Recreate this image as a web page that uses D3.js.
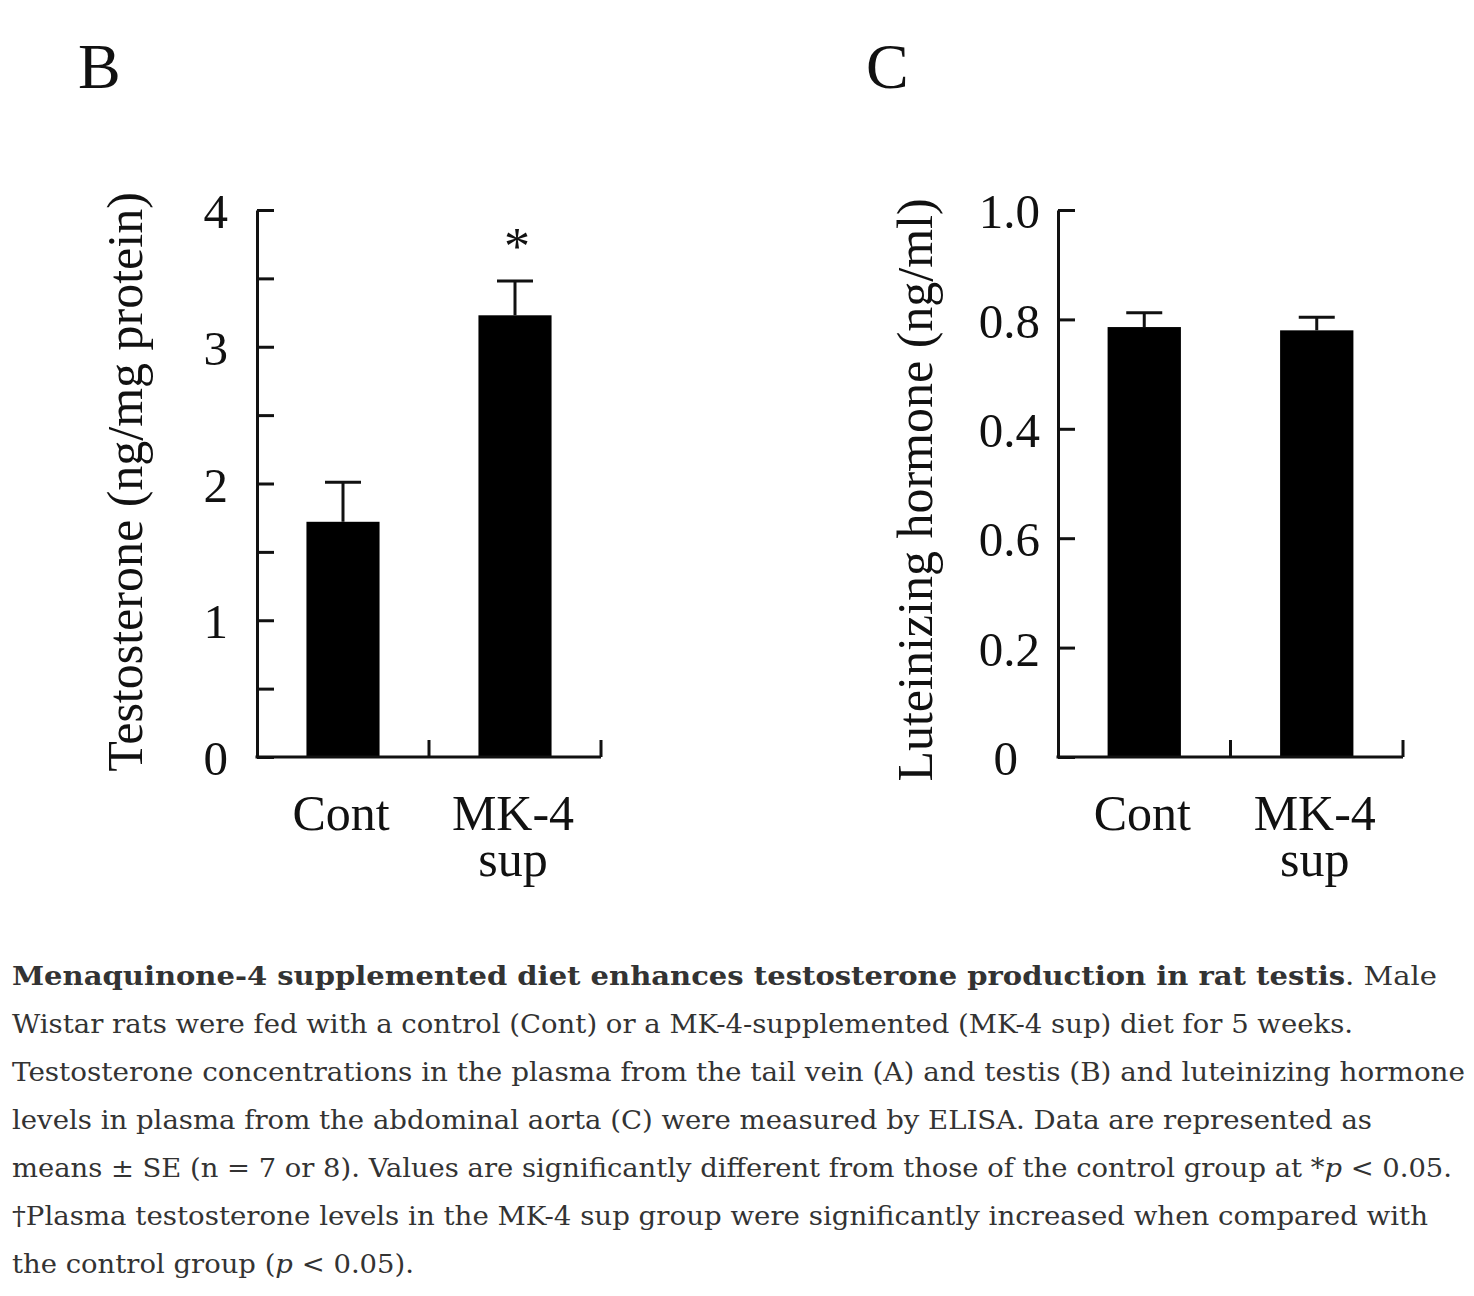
<!DOCTYPE html>
<html><head><meta charset="utf-8">
<script src="https://cdn.jsdelivr.net/npm/d3@7"></script>
<style>
html,body{margin:0;padding:0;background:#fff;}
svg{display:block;}
</style></head>
<body>
<svg id="chart" width="1474" height="1296"></svg>
<script>
// ---- data ----
const categories = ["Cont", "MK-4 sup"];
const categoryLines = [["Cont"], ["MK-4", "sup"]];
const testosteroneMeans = [1.72, 3.23];
const testosteroneSE = [0.29, 0.25];
const testosteroneSig = ["", "*"];
const lhMeans = [0.786, 0.780];
const lhSE = [0.026, 0.024];
const testosteroneTicks = [0, 0.5, 1, 1.5, 2, 2.5, 3, 3.5, 4];
const testosteroneTickLabels = ["0", "", "1", "", "2", "", "3", "", "4"];
const lhTicks = [0, 0.2, 0.4, 0.6, 0.8, 1.0];
const lhTickLabels = ["0", "0.2", "0.6", "0.4", "0.8", "1.0"];
const captionLines = [
  [{t:"Menaquinone-4 supplemented diet enhances testosterone production in rat testis", b:true},{t:". Male"}],
  [{t:"Wistar rats were fed with a control (Cont) or a MK-4-supplemented (MK-4 sup) diet for 5 weeks."}],
  [{t:"Testosterone concentrations in the plasma from the tail vein (A) and testis (B) and luteinizing hormone"}],
  [{t:"levels in plasma from the abdominal aorta (C) were measured by ELISA. Data are represented as"}],
  [{t:"means ± SE (n = 7 or 8). Values are significantly different from those of the control group at *"},{t:"p",i:true},{t:" < 0.05."}],
  [{t:"†Plasma testosterone levels in the MK-4 sup group were significantly increased when compared with"}],
  [{t:"the control group ("},{t:"p",i:true},{t:" < 0.05)."}]
];
const captionWidths = [1425, 1341, 1453, 1360, 1440, 1416, 402];

// ---- drawing ----
const svg = d3.select("#chart");
const ink = "#111";
const serif = "'Liberation Serif', 'Times New Roman', serif";
const capSerif = "'DejaVu Serif', Georgia, serif";

function panel(opts) {
  const g = svg.append("g");
  const x = d3.scaleBand().domain(categories).range([opts.x0, opts.x1]).padding(0);
  const y = d3.scaleLinear().domain(opts.domain).range([757, 210]);
  const bw = x.bandwidth();
  const barW = bw * 0.425;

  // y axis
  const yAxis = d3.axisLeft(y).tickValues(opts.ticks)
    .tickFormat((d, i) => opts.tickLabels[i])
    .tickSizeInner(-17).tickSizeOuter(0).tickPadding(opts.pad);
  const ya = g.append("g").attr("transform", `translate(${opts.x0},0)`).call(yAxis);
  ya.select(".domain").attr("stroke", ink).attr("stroke-width", 3);
  ya.selectAll(".tick line").attr("stroke", ink).attr("stroke-width", 3);
  ya.selectAll(".tick text").attr("font-family", serif).attr("font-size", 49)
    .attr("fill", ink).attr("dy", "0.36em")
    .attr("dx", (d, i) => (opts.zeroShift && d === 0) ? -opts.zeroShift : 0);

  // bars
  g.selectAll("rect.bar").data(categories).join("rect")
    .attr("x", d => x(d) + (bw - barW) / 2)
    .attr("y", (d, i) => y(opts.means[i]))
    .attr("width", barW)
    .attr("height", (d, i) => y(0) - y(opts.means[i]))
    .attr("fill", "#000");

  // error bars (upward)
  const cap = 36;
  categories.forEach((c, i) => {
    const cx = x(c) + bw / 2;
    g.append("line").attr("x1", cx).attr("x2", cx)
      .attr("y1", y(opts.means[i])).attr("y2", y(opts.means[i] + opts.se[i]))
      .attr("stroke", ink).attr("stroke-width", 3);
    g.append("line").attr("x1", cx - cap / 2).attr("x2", cx + cap / 2)
      .attr("y1", y(opts.means[i] + opts.se[i])).attr("y2", y(opts.means[i] + opts.se[i]))
      .attr("stroke", ink).attr("stroke-width", 3);
    if (opts.sig && opts.sig[i]) {
      g.append("text").attr("x", cx + 2).attr("y", y(opts.means[i] + opts.se[i]) - 17)
        .attr("text-anchor", "middle").attr("font-family", serif).attr("font-size", 52)
        .attr("fill", ink).text(opts.sig[i]);
    }
  });

  // x axis: baseline with ticks at band ends
  const xAxis = d3.axisBottom(x).tickSize(0).tickFormat("");
  const xa = g.append("g").attr("transform", `translate(0,${y(0)})`).call(xAxis);
  xa.select(".domain").attr("stroke", ink).attr("stroke-width", 3).attr("d", `M${opts.x0 - 1.5},0H${opts.x1}`);
  xa.selectAll(".tick").remove();
  g.selectAll("line.xt").data(categories).join("line")
    .attr("x1", d => x(d) + bw).attr("x2", d => x(d) + bw)
    .attr("y1", y(0)).attr("y2", y(0) - 17)
    .attr("stroke", ink).attr("stroke-width", 3);

  // category labels (multi-line as one text element)
  categories.forEach((c, i) => {
    const t = g.append("text").attr("x", x(c) + bw / 2 - 2).attr("y", 830)
      .attr("text-anchor", "middle").attr("font-family", serif).attr("font-size", 50)
      .attr("fill", ink);
    categoryLines[i].forEach((ln, j) => {
      t.append("tspan").attr("x", x(c) + bw / 2 - 2).attr("dy", j === 0 ? 0 : 46).text(ln);
    });
  });

  // y title
  g.append("text").attr("transform", `translate(${opts.titleX},${opts.titleY}) rotate(-90)`)
    .attr("text-anchor", "middle").attr("font-family", serif).attr("font-size", 50)
    .attr("fill", ink).text(opts.title);

  // panel letter
  g.append("text").attr("x", opts.letterX).attr("y", 88)
    .attr("font-family", serif).attr("font-size", 64).attr("fill", ink).text(opts.letter);
}

panel({
  x0: 257, x1: 601, domain: [0, 4], ticks: testosteroneTicks, tickLabels: testosteroneTickLabels,
  means: testosteroneMeans, se: testosteroneSE, sig: testosteroneSig, pad: 29,
  title: "Testosterone (ng/mg protein)", titleX: 142, titleY: 482, letter: "B", letterX: 78
});
panel({
  x0: 1058, x1: 1403, domain: [0, 1], ticks: lhTicks, tickLabels: lhTickLabels,
  means: lhMeans, se: lhSE, sig: null, pad: 18, zeroShift: 22,
  title: "Luteinizing hormone (ng/ml)", titleX: 932, titleY: 490, letter: "C", letterX: 866
});

// caption
const cap = svg.append("g");
captionLines.forEach((parts, i) => {
  const t = cap.append("text").attr("x", 12).attr("y", 985 + i * 48)
    .attr("font-family", capSerif).attr("font-size", 26).attr("fill", "#333")
    .attr("textLength", captionWidths[i]).attr("lengthAdjust", "spacingAndGlyphs");
  parts.forEach(p => {
    t.append("tspan").attr("font-weight", p.b ? "bold" : null)
      .attr("font-style", p.i ? "italic" : null).text(p.t);
  });
});
</script>
</body></html>
